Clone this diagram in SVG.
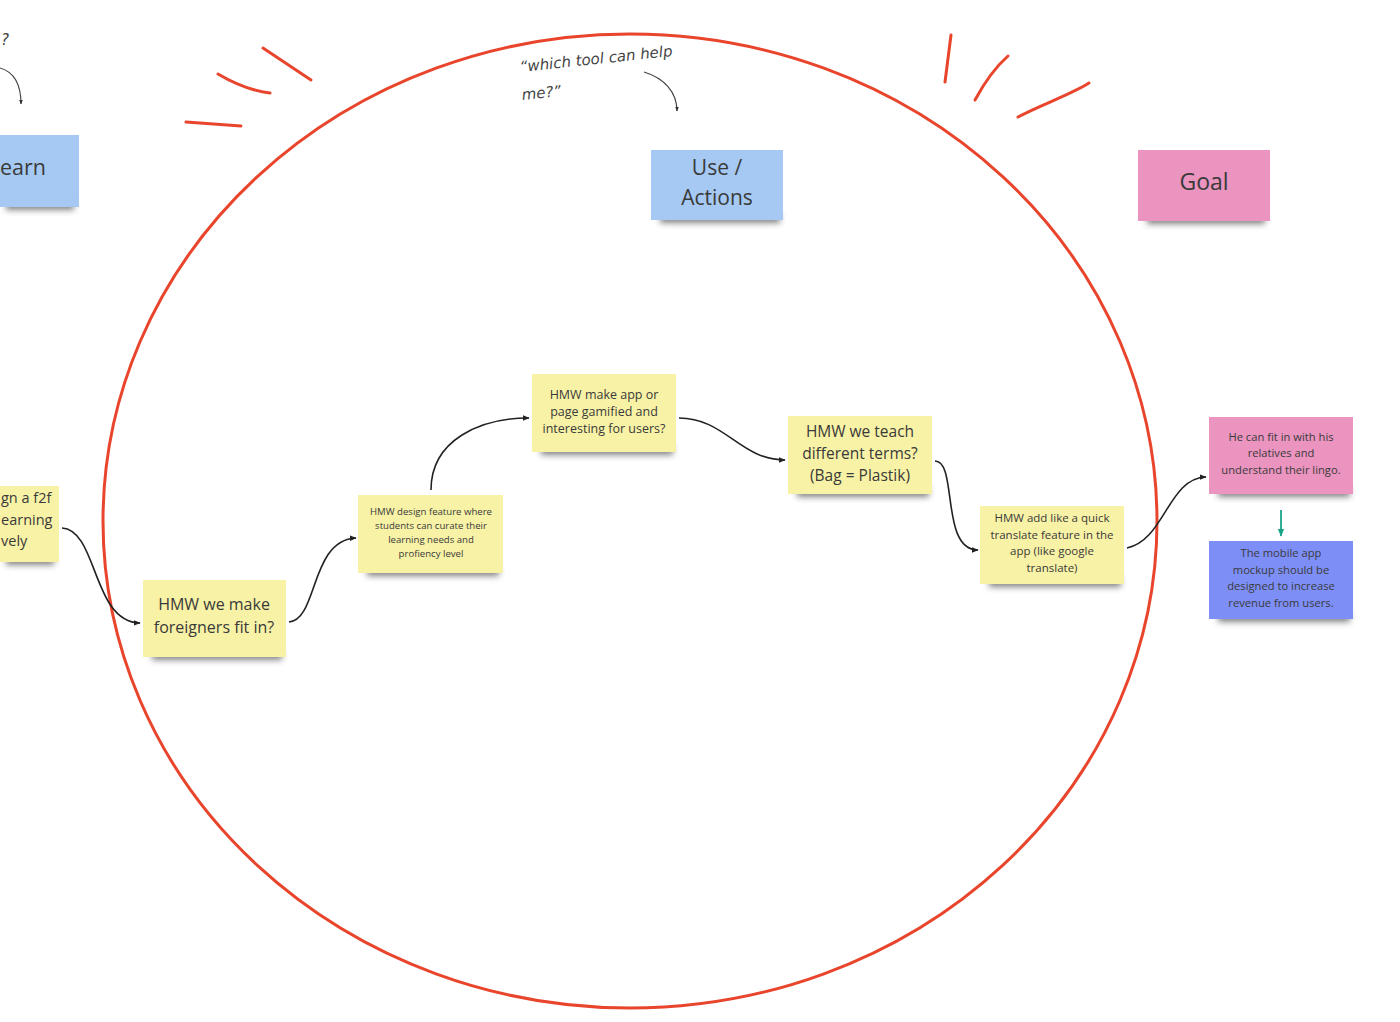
<svg xmlns="http://www.w3.org/2000/svg" width="1400" height="1022" viewBox="0 0 1400 1022">
  <defs>
    <filter id="blur" x="-20%" y="-100%" width="140%" height="300%">
      <feGaussianBlur stdDeviation="3"/>
    </filter>
    <marker id="ah" viewBox="0 0 10 10" refX="9" refY="5" markerWidth="7" markerHeight="7" orient="auto" markerUnits="userSpaceOnUse">
      <path d="M0,1 L10,5 L0,9 z" fill="#222"/>
    </marker>
    <marker id="ahs" viewBox="0 0 10 10" refX="9" refY="5" markerWidth="5" markerHeight="5" orient="auto" markerUnits="userSpaceOnUse">
      <path d="M0,1 L10,5 L0,9 z" fill="#333"/>
    </marker>
    <marker id="ahg" viewBox="0 0 10 10" refX="9" refY="5" markerWidth="8" markerHeight="8" orient="auto" markerUnits="userSpaceOnUse">
      <path d="M0,1 L10,5 L0,9 z" fill="#1aa58a"/>
    </marker>
  </defs>
  <style>
    .shadow { fill: #333; opacity: 0.6; filter: url(#blur); }
    .yellow { fill: #f8f2a6; }
    .blue { fill: #a5c9f2; }
    .pink { fill: #ea94bf; }
    .purple { fill: #7d8ff6; }
    .t { font-family: "Open Sans", "Liberation Sans", sans-serif; fill: #3a3a3a; text-anchor: middle; }
    .hand { font-family: "DejaVu Sans", sans-serif; font-style: italic; fill: #444; font-size: 15px; }
    .red { fill: none; stroke: #e8452c; stroke-width: 3; stroke-linecap: round; }
    .conn { fill: none; stroke: #222; stroke-width: 1.6; marker-end: url(#ah); }
    .thin { fill: none; stroke: #444; stroke-width: 1.2; marker-end: url(#ahs); }
  </style>
  <rect width="1400" height="1022" fill="#fff"/>

  <g id="burst">
    <ellipse class="red" cx="630" cy="521" rx="527" ry="487"/>
    <path class="red" d="M263,48 L311,80"/>
    <path class="red" d="M218,74 Q245,90 270,93"/>
    <path class="red" d="M186,122 L241,126"/>
    <path class="red" d="M951,35 L945,82"/>
    <path class="red" d="M1008,56 Q990,72 975,100"/>
    <path class="red" d="M1018,117 C1040,105 1070,95 1089,83"/>
  </g>

  <g id="annotations">
    <text class="hand" x="1" y="45" font-size="12">?</text>
    <path class="thin" d="M0,68 C14,72 21,85 21,104"/>
    <text class="hand" transform="rotate(-6 520 70)" x="520" y="72">“which tool can help</text>
    <text class="hand" transform="rotate(-6 522 98)" x="522" y="100">me?”</text>
    <path class="thin" d="M644,72 C664,78 677,92 677,111"/>
  </g>

  <g id="connectors">
    <path class="conn" d="M62,528 C98,530 92,622 140,623"/>
    <path class="conn" d="M289,622 C318,620 310,540 356,538"/>
    <path class="conn" d="M431,490 C431,440 480,418 529,418"/>
    <path class="conn" d="M679,418 C725,418 740,460 785,460"/>
    <path class="conn" d="M935,461 C958,461 940,550 978,550"/>
    <path class="conn" d="M1127,548 C1165,540 1168,478 1206,477"/>
    <path fill="none" stroke="#1aa58a" stroke-width="1.8" marker-end="url(#ahg)" d="M1281,510 L1281,536"/>
  </g>

  <g id="learn">
    <rect class="shadow" x="6" y="200" width="68" height="10"/>
    <rect class="blue" x="-5" y="135" width="84" height="72"/>
    <text class="t" style="text-anchor:start" x="0" y="175" font-size="21.5">earn</text>
  </g>

  <g id="f2f">
    <rect class="shadow" x="6" y="556" width="48" height="9"/>
    <rect class="yellow" x="-5" y="486" width="64" height="76"/>
    <text class="t" style="text-anchor:start" font-size="14.5"><tspan x="1" y="503">gn a f2f</tspan><tspan x="1" y="525">earning</tspan><tspan x="1" y="546">vely</tspan></text>
  </g>

  <g id="use-actions">
    <rect class="shadow" x="660" y="213" width="120" height="10"/>
    <rect class="blue" x="651" y="150" width="132" height="70"/>
    <text class="t" font-size="21"><tspan x="717" y="175">Use /</tspan><tspan x="717" y="205">Actions</tspan></text>
  </g>

  <g id="goal">
    <rect class="shadow" x="1147" y="214" width="118" height="10"/>
    <rect class="pink" x="1138" y="150" width="132" height="71"/>
    <text class="t" x="1204" y="190" font-size="23">Goal</text>
  </g>

  <g id="fit-in">
    <rect class="shadow" x="152" y="650" width="130" height="10"/>
    <rect class="yellow" x="143" y="580" width="143" height="77"/>
    <text class="t" font-size="16"><tspan x="214" y="610">HMW we make</tspan><tspan x="214" y="633">foreigners fit in?</tspan></text>
  </g>

  <g id="curate">
    <rect class="shadow" x="367" y="566" width="132" height="10"/>
    <rect class="yellow" x="358" y="495" width="145" height="78"/>
    <text class="t" font-size="9.6"><tspan x="431" y="514.5">HMW design feature where</tspan><tspan x="431" y="528.5">students can curate their</tspan><tspan x="431" y="542.5">learning needs and</tspan><tspan x="431" y="556.5">profiency level</tspan></text>
  </g>

  <g id="gamified">
    <rect class="shadow" x="541" y="445" width="132" height="10"/>
    <rect class="yellow" x="532" y="374" width="144" height="78"/>
    <text class="t" font-size="12.5"><tspan x="604" y="398.5">HMW make app or</tspan><tspan x="604" y="415.5">page gamified and</tspan><tspan x="604" y="432.5">interesting for users?</tspan></text>
  </g>

  <g id="terms">
    <rect class="shadow" x="797" y="487" width="132" height="10"/>
    <rect class="yellow" x="788" y="416" width="144" height="78"/>
    <text class="t" font-size="15.5"><tspan x="860" y="436.5">HMW we teach</tspan><tspan x="860" y="458.5">different terms?</tspan><tspan x="860" y="480.5">(Bag = Plastik)</tspan></text>
  </g>

  <g id="translate">
    <rect class="shadow" x="989" y="577" width="132" height="10"/>
    <rect class="yellow" x="980" y="506" width="144" height="78"/>
    <text class="t" font-size="11.5"><tspan x="1052" y="522">HMW add like a quick</tspan><tspan x="1052" y="538.5">translate feature in the</tspan><tspan x="1052" y="555">app (like google</tspan><tspan x="1052" y="571.5">translate)</tspan></text>
  </g>

  <g id="fit-relatives">
    <rect class="shadow" x="1218" y="487" width="132" height="10"/>
    <rect class="pink" x="1209" y="417" width="144" height="77"/>
    <text class="t" font-size="11.2"><tspan x="1281" y="441">He can fit in with his</tspan><tspan x="1281" y="457">relatives and</tspan><tspan x="1281" y="473.5">understand their lingo.</tspan></text>
  </g>

  <g id="mockup">
    <rect class="shadow" x="1218" y="612" width="132" height="10"/>
    <rect class="purple" x="1209" y="541" width="144" height="78"/>
    <text class="t" font-size="11.2"><tspan x="1281" y="557">The mobile app</tspan><tspan x="1281" y="573.5">mockup should be</tspan><tspan x="1281" y="590">designed to increase</tspan><tspan x="1281" y="606.5">revenue from users.</tspan></text>
  </g>
</svg>
